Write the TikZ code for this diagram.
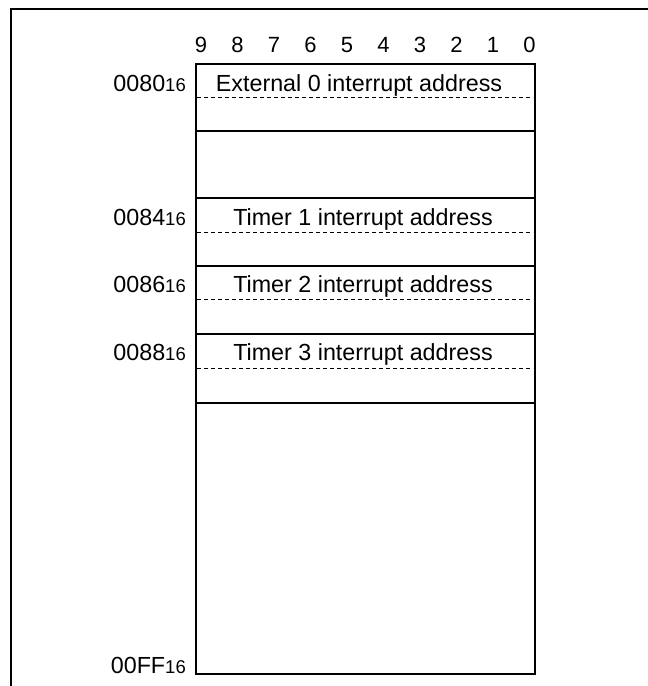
\documentclass[tikz,border=0pt]{standalone}
\usepackage{fontspec}
\setmainfont{Liberation Sans}
\begin{document}
\begin{tikzpicture}[x=1pt,y=-1pt,
  frame/.style={line width=2pt},
  solidrow/.style={line width=1.8pt},
  dashrow/.style={line width=1pt,dash pattern=on 4pt off 3pt},
  boxtext/.style={anchor=base,inner sep=0pt,font=\fontsize{23.3}{27}\selectfont},
  addr/.style={anchor=base east,inner sep=0pt,font=\fontsize{23.3}{27}\selectfont},
  bitnum/.style={anchor=base,inner sep=0pt,font=\fontsize{22}{26}\selectfont}]
\useasboundingbox (0,0) rectangle (648,686);
\newcommand{\sixteen}{{\fontsize{18.5}{21}\selectfont 16}}
% outer frame
\draw[frame] (11,687) -- (11,9) -- (649,9);
% memory box
\draw[solidrow] (196,64) rectangle (535,674);
\foreach \y in {131,198,266,334,403} \draw[solidrow] (196,\y) -- (535,\y);
\foreach \y in {97,232,299,368} \draw[dashrow] (197,\y) -- (533,\y);
% bit numbers
\foreach \b [count=\i from 0] in {9,8,7,6,5,4,3,2,1,0}
  \node[bitnum] (bit\b) at ({201+36.5*\i},52) {\b};
% texts
\node[boxtext] (ext0) at (359,91) {External 0 interrupt address};
\node[boxtext] (tim1) at (363,225) {Timer 1 interrupt address};
\node[boxtext] (tim2) at (363,292) {Timer 2 interrupt address};
\node[boxtext] (tim3) at (363,360) {Timer 3 interrupt address};
% addresses
\node[addr] (a0080) at (186,91) {0080\sixteen};
\node[addr] (a0084) at (186,225) {0084\sixteen};
\node[addr] (a0086) at (186,292) {0086\sixteen};
\node[addr] (a0088) at (186,360) {0088\sixteen};
\node[addr] (a00FF) at (186,673) {00FF\sixteen};
\end{tikzpicture}
\end{document}
